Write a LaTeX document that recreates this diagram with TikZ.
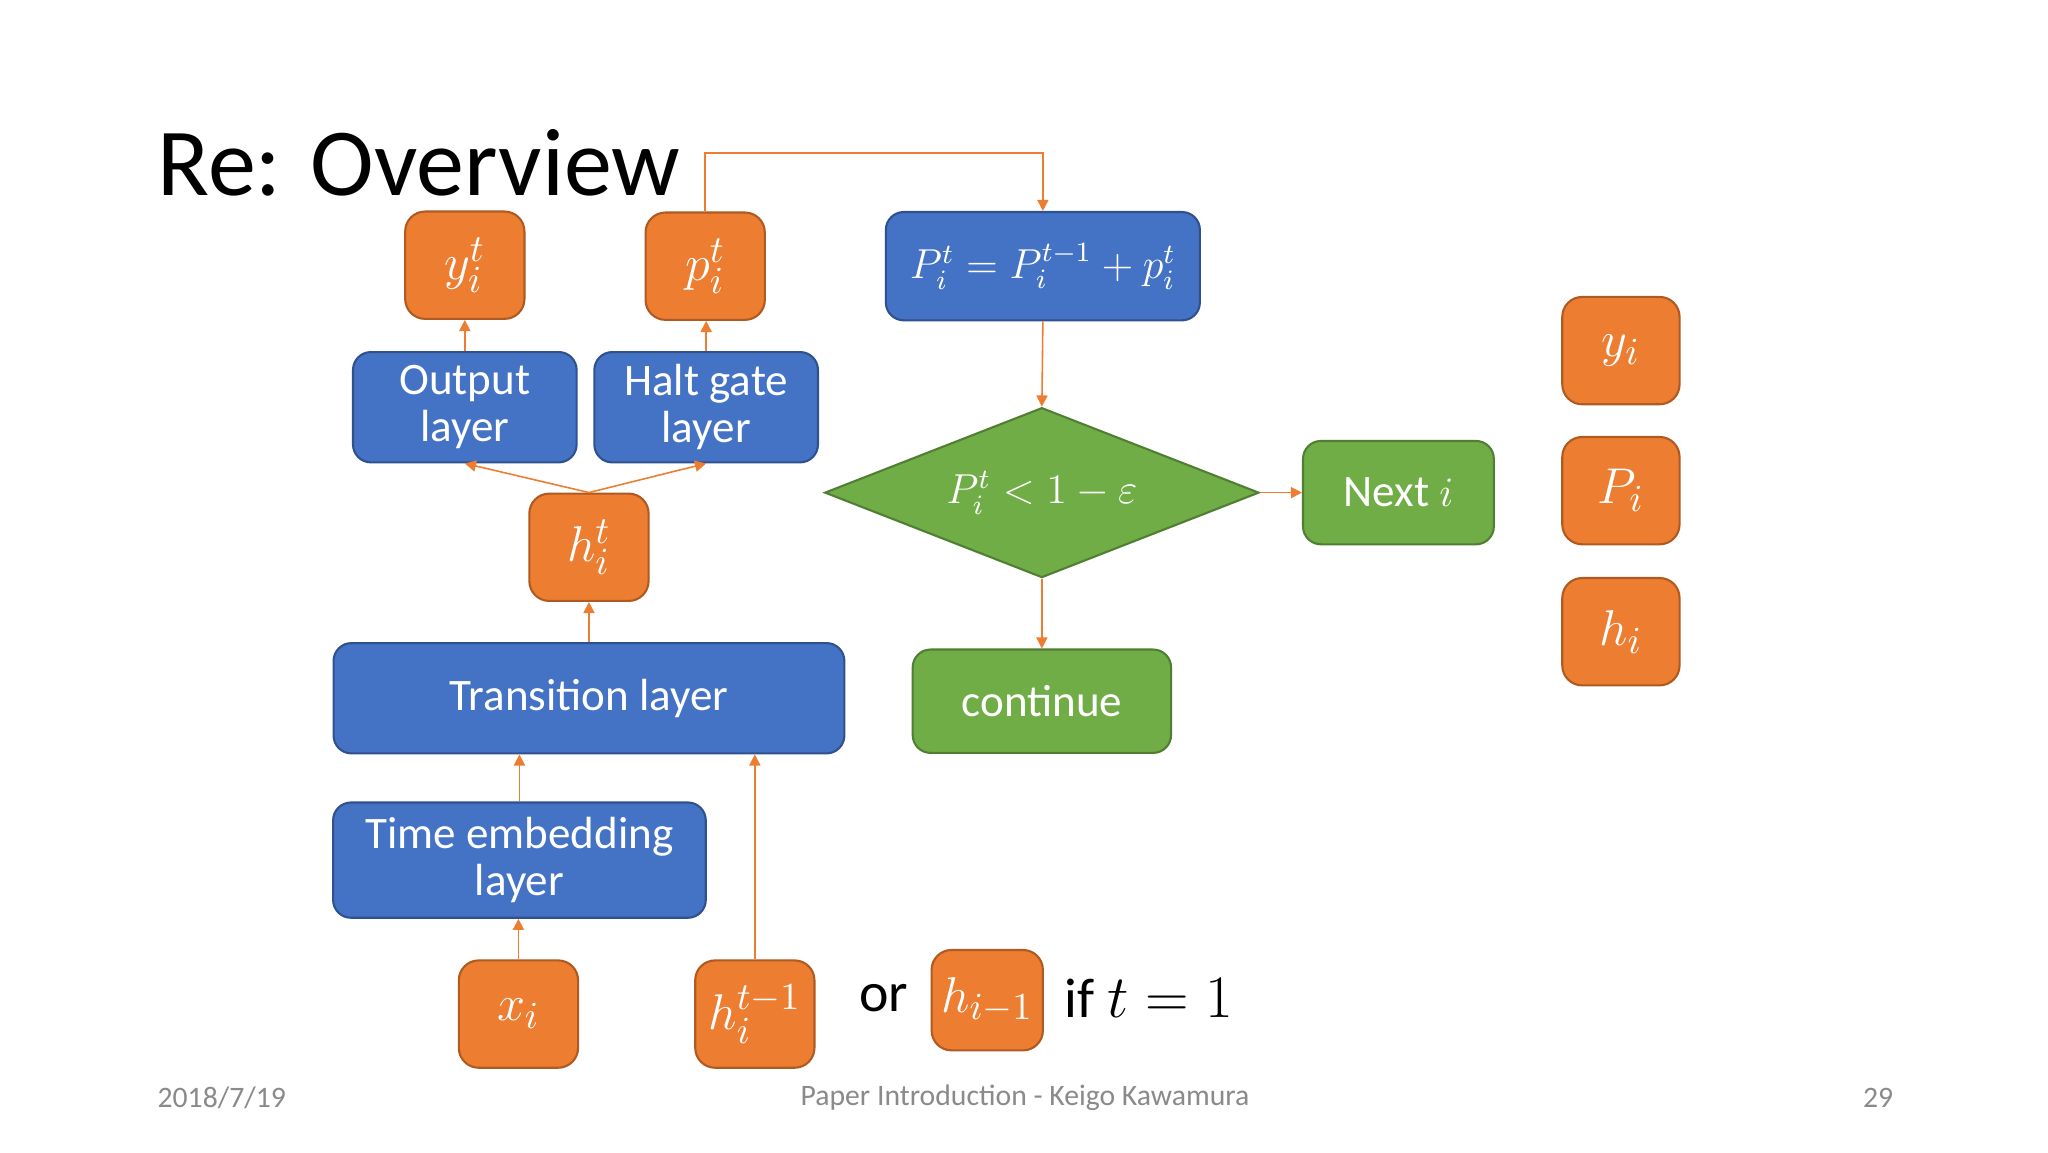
\documentclass[tikz,border=0pt]{standalone}
\usepackage{fontspec}
\setmainfont{Carlito}
\usetikzlibrary{arrows.meta,shapes.geometric}
\definecolor{orfill}{HTML}{ED7D31}
\definecolor{ordraw}{HTML}{AE5A21}
\definecolor{blfill}{HTML}{4472C4}
\definecolor{bldraw}{HTML}{2F528F}
\definecolor{grfill}{HTML}{70AD47}
\definecolor{grdraw}{HTML}{507E32}
\definecolor{footgray}{HTML}{8A8A8A}
\tikzset{
	orbox/.style={draw=ordraw, fill=orfill, line width=0.6pt, rounded corners=0.2cm, minimum width=1.2cm, minimum height=1.08cm, inner sep=0pt, text=white, font=\fontsize{15}{18}\selectfont},
	bluebox/.style={draw=bldraw, fill=blfill, line width=0.6pt, rounded corners=0.18cm, inner sep=0pt, text=white, align=center, font=\fontsize{12.9}{13.6}\selectfont},
	greenbox/.style={draw=grdraw, fill=grfill, line width=0.6pt, rounded corners=0.18cm, inner sep=0pt, text=white, align=center, font=\fontsize{12.9}{13.6}\selectfont},
	flow/.style={draw=orfill, line width=0.45pt, -{Triangle[length=3.2pt,width=3.2pt]}},
	foot/.style={text=footgray, font=\fontsize{8.5}{10}\selectfont, inner sep=0pt},
}

\begin{document}
\begin{tikzpicture}[x=0.01cm, y=-0.01cm]
			%%%%% START %%%%%
			
			\useasboundingbox[fill=white] (0, 0) rectangle (2062, 1160);
			
			\node[anchor=base west, inner sep=0pt, font=\fontsize{27.5}{32}\selectfont] (title) at (158, 197) {Re: Overview};
			
			\node[orbox] (yt) at (468, 267) {$y_i^t$};
			\node[orbox] (pt) at (710, 268) {$p_i^t$};
			\node[bluebox, minimum width=3.16cm, minimum height=1.09cm, font=\fontsize{12}{14}\selectfont] (Pbox) at (1050, 268) {$P_i^t = P_i^{t-1} + p_i^t$};
			
			\node[bluebox, minimum width=2.25cm, minimum height=1.11cm] (outl) at (468, 410) {Output\\layer};
			\node[bluebox, minimum width=2.25cm, minimum height=1.11cm] (halt) at (711, 410) {Halt gate\\layer};
			
			\node[greenbox, shape=diamond, aspect=2.55, rounded corners=0pt, minimum width=4.37cm, minimum height=1.71cm, font=\fontsize{12}{14}\selectfont] (cond) at (1049, 496) {$P_i^t < 1 - \varepsilon$};
			\node[greenbox, minimum width=1.92cm, minimum height=1.04cm] (next) at (1408, 496) {Next $i$};
			
			\node[orbox] (ht) at (593, 551) {$h_i^t$};
			
			\node[bluebox, minimum width=5.14cm, minimum height=1.11cm] (trans) at (593, 703) {Transition layer};
			\node[greenbox, minimum width=2.6cm, minimum height=1.04cm] (cont) at (1049, 706) {continue};
			
			\node[bluebox, minimum width=3.75cm, minimum height=1.16cm] (temb) at (523, 866) {Time embedding\\layer};
			
			\node[orbox] (xi) at (522, 1021) {$x_i$};
			\node[orbox] (hprev) at (760, 1021) {$h_i^{t-1}$};
			\node[inner sep=0pt, font=\fontsize{16}{18}\selectfont] (or) at (890, 1005) {or};
			\node[orbox, minimum width=1.12cm, minimum height=1.01cm] (hlast) at (994, 1007) {$h_{i-1}$};
			\node[inner sep=0pt, font=\fontsize{16}{18}\selectfont] (cond1) at (1157, 1005) {if $t = 1$};
			
			\node[orbox, minimum width=1.18cm] (yi) at (1632, 353) {$y_i$};
			\node[orbox, minimum width=1.18cm] (Pi) at (1632, 494) {$P_i$};
			\node[orbox, minimum width=1.18cm] (hi) at (1632, 636) {$h_i$};
			
			\coordinate (loop) at (1050, 154);
			
			\draw[flow] (outl.north) -- (yt.south);
			\draw[flow] (halt.north) -- (halt.north |- pt.south);
			\draw[flow] (pt.north) |- (loop) -- (Pbox.north);
			\draw[flow] (Pbox.south) -- (cond.north);
			\draw[flow] (cond.east) -- (next.west);
			\draw[flow] (cond.south) -- (cont.north);
			\draw[flow] (ht.north) -- (outl.south);
			\draw[flow] (ht.north) -- (halt.south);
			\draw[flow] (trans.north) -- (ht.south);
			\draw[flow] (temb.north) -- (temb.north |- trans.south);
			\draw[flow] (xi.north) -- (xi.north |- temb.south);
			\draw[flow] (hprev.north) -- (hprev.north |- trans.south);
			
			\node[foot, anchor=west] (date) at (158, 1105) {2018/7/19};
			\node[foot] (talk) at (1032, 1105) {Paper Introduction - Keigo Kawamura};
			\node[foot] (page) at (1891, 1105) {29};
			
			%%%%% END %%%%%
		\end{tikzpicture}
\end{document}
